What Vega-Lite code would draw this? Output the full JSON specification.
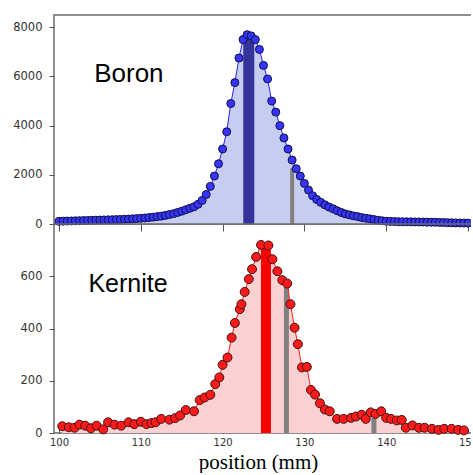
{
  "$schema": "https://vega.github.io/schema/vega-lite/v6.json",
  "padding": {"left": 5, "top": 14, "right": -8, "bottom": 0},
  "spacing": 0,
  "bounds": "flush",
  "config": {
    "view": {"stroke": "#6b6b6b", "strokeWidth": 1.5},
    "axis": {"domain": false, "grid": false, "tickColor": "#555555", "labelColor": "#333333", "labelFont": "DejaVu Sans"}
  },
  "datasets": {
    "boron": [
      {"position": 100.0, "counts": 110}, {"position": 100.5, "counts": 115}, {"position": 101.0, "counts": 120}, {"position": 101.5, "counts": 125},
      {"position": 102.0, "counts": 130}, {"position": 102.5, "counts": 135}, {"position": 103.0, "counts": 140}, {"position": 103.5, "counts": 145},
      {"position": 104.0, "counts": 150}, {"position": 104.5, "counts": 155}, {"position": 105.0, "counts": 160}, {"position": 105.5, "counts": 165},
      {"position": 106.0, "counts": 170}, {"position": 106.5, "counts": 175}, {"position": 107.0, "counts": 180}, {"position": 107.5, "counts": 185},
      {"position": 108.0, "counts": 195}, {"position": 108.5, "counts": 200}, {"position": 109.0, "counts": 210}, {"position": 109.5, "counts": 220},
      {"position": 110.0, "counts": 230}, {"position": 110.5, "counts": 245}, {"position": 111.0, "counts": 260}, {"position": 111.5, "counts": 280},
      {"position": 112.0, "counts": 300}, {"position": 112.5, "counts": 320}, {"position": 113.0, "counts": 350}, {"position": 113.5, "counts": 385},
      {"position": 114.0, "counts": 420}, {"position": 114.5, "counts": 470}, {"position": 115.0, "counts": 520}, {"position": 115.5, "counts": 580},
      {"position": 116.0, "counts": 640}, {"position": 116.5, "counts": 700}, {"position": 117.0, "counts": 800}, {"position": 117.5, "counts": 960},
      {"position": 118.0, "counts": 1200}, {"position": 118.5, "counts": 1530}, {"position": 119.0, "counts": 1950}, {"position": 119.5, "counts": 2450},
      {"position": 120.0, "counts": 3050}, {"position": 120.5, "counts": 3750}, {"position": 121.0, "counts": 4900}, {"position": 121.5, "counts": 5750},
      {"position": 122.0, "counts": 6750}, {"position": 122.5, "counts": 7500}, {"position": 123.0, "counts": 7700}, {"position": 123.5, "counts": 7650},
      {"position": 124.0, "counts": 7500}, {"position": 124.5, "counts": 7100}, {"position": 125.0, "counts": 6450}, {"position": 125.5, "counts": 5900},
      {"position": 126.0, "counts": 5000}, {"position": 126.5, "counts": 4550}, {"position": 127.0, "counts": 4000}, {"position": 127.5, "counts": 3500},
      {"position": 128.0, "counts": 3050}, {"position": 128.5, "counts": 2600}, {"position": 129.0, "counts": 2250}, {"position": 129.5, "counts": 1950},
      {"position": 130.0, "counts": 1650}, {"position": 130.5, "counts": 1380}, {"position": 131.0, "counts": 1150}, {"position": 131.5, "counts": 1000},
      {"position": 132.0, "counts": 880}, {"position": 132.5, "counts": 780}, {"position": 133.0, "counts": 690}, {"position": 133.5, "counts": 620},
      {"position": 134.0, "counts": 540}, {"position": 134.5, "counts": 470}, {"position": 135.0, "counts": 410}, {"position": 135.5, "counts": 370},
      {"position": 136.0, "counts": 330}, {"position": 136.5, "counts": 300}, {"position": 137.0, "counts": 260}, {"position": 137.5, "counts": 235},
      {"position": 138.0, "counts": 210}, {"position": 138.5, "counts": 180}, {"position": 139.0, "counts": 155}, {"position": 139.5, "counts": 130},
      {"position": 140.0, "counts": 115}, {"position": 140.5, "counts": 105}, {"position": 141.0, "counts": 100}, {"position": 141.5, "counts": 95},
      {"position": 142.0, "counts": 92}, {"position": 142.5, "counts": 90}, {"position": 143.0, "counts": 88}, {"position": 143.5, "counts": 85},
      {"position": 144.0, "counts": 82}, {"position": 144.5, "counts": 80}, {"position": 145.0, "counts": 75}, {"position": 145.5, "counts": 72},
      {"position": 146.0, "counts": 70}, {"position": 146.5, "counts": 65}, {"position": 147.0, "counts": 60}, {"position": 147.5, "counts": 55},
      {"position": 148.0, "counts": 50}, {"position": 148.5, "counts": 45}, {"position": 149.0, "counts": 42}, {"position": 149.5, "counts": 38},
      {"position": 150.0, "counts": 35}
    ],
    "kernite": [
      {"position": 100.4, "counts": 26}, {"position": 101.2, "counts": 22}, {"position": 101.9, "counts": 20}, {"position": 102.5, "counts": 32},
      {"position": 103.2, "counts": 28}, {"position": 103.9, "counts": 18}, {"position": 104.6, "counts": 28}, {"position": 105.4, "counts": 14},
      {"position": 106.0, "counts": 41}, {"position": 106.8, "counts": 32}, {"position": 107.6, "counts": 28}, {"position": 108.5, "counts": 41},
      {"position": 109.2, "counts": 34}, {"position": 110.0, "counts": 43}, {"position": 110.7, "counts": 34}, {"position": 111.3, "counts": 38},
      {"position": 111.8, "counts": 41}, {"position": 112.5, "counts": 54}, {"position": 113.5, "counts": 51}, {"position": 114.2, "counts": 57},
      {"position": 114.8, "counts": 67}, {"position": 115.5, "counts": 88}, {"position": 116.5, "counts": 83}, {"position": 117.2, "counts": 126},
      {"position": 117.8, "counts": 136}, {"position": 118.5, "counts": 146}, {"position": 119.1, "counts": 187}, {"position": 119.6, "counts": 213},
      {"position": 120.0, "counts": 261}, {"position": 120.6, "counts": 289}, {"position": 121.1, "counts": 365}, {"position": 121.5, "counts": 421},
      {"position": 122.1, "counts": 474}, {"position": 122.3, "counts": 493}, {"position": 122.7, "counts": 540}, {"position": 123.2, "counts": 589},
      {"position": 123.6, "counts": 627}, {"position": 124.1, "counts": 674}, {"position": 124.7, "counts": 720}, {"position": 125.6, "counts": 718},
      {"position": 126.1, "counts": 665}, {"position": 126.7, "counts": 619}, {"position": 127.3, "counts": 585}, {"position": 127.9, "counts": 572},
      {"position": 128.3, "counts": 493}, {"position": 128.8, "counts": 403}, {"position": 129.2, "counts": 340}, {"position": 129.7, "counts": 251},
      {"position": 130.3, "counts": 253}, {"position": 130.8, "counts": 165}, {"position": 131.3, "counts": 147}, {"position": 131.9, "counts": 114},
      {"position": 132.5, "counts": 90}, {"position": 133.1, "counts": 83}, {"position": 134.0, "counts": 54}, {"position": 134.8, "counts": 54},
      {"position": 135.7, "counts": 58}, {"position": 136.3, "counts": 63}, {"position": 137.0, "counts": 70}, {"position": 137.5, "counts": 54},
      {"position": 138.1, "counts": 79}, {"position": 138.7, "counts": 73}, {"position": 139.4, "counts": 83}, {"position": 140.0, "counts": 58},
      {"position": 140.6, "counts": 54}, {"position": 141.3, "counts": 48}, {"position": 141.9, "counts": 50}, {"position": 142.4, "counts": 20},
      {"position": 143.2, "counts": 29}, {"position": 144.0, "counts": 20}, {"position": 144.7, "counts": 20}, {"position": 145.6, "counts": 16},
      {"position": 146.4, "counts": 12}, {"position": 147.1, "counts": 16}, {"position": 148.0, "counts": 16}, {"position": 148.8, "counts": 12},
      {"position": 149.5, "counts": 10}
    ]
  },
  "vconcat": [
    {
      "width": 419,
      "height": 209,
      "layer": [
        {
          "data": {"name": "boron"},
          "mark": {"type": "area", "color": "#c6cdf1"},
          "encoding": {
            "x": {"field": "position", "type": "quantitative", "scale": {"domain": [100, 150], "nice": false, "zero": false},
                  "axis": {"labels": false, "tickSize": 7, "values": [100, 110, 120, 130, 140, 150], "title": null}},
            "y": {"field": "counts", "type": "quantitative", "scale": {"domain": [0, 8500], "nice": false},
                  "axis": {"values": [0, 2000, 4000, 6000, 8000], "format": "d", "tickSize": 5, "labelPadding": 7, "labelFontSize": 11.5, "title": null, "minExtent": 48}}
          }
        },
        {
          "data": {"values": [{"position": 123.2, "counts": 7650}]},
          "mark": {"type": "bar", "color": "#333399", "size": 11},
          "encoding": {"x": {"field": "position", "type": "quantitative"}, "y": {"field": "counts", "type": "quantitative"}}
        },
        {
          "data": {"values": [{"position": 128.5, "counts": 2265}]},
          "mark": {"type": "bar", "color": "#808080", "size": 4},
          "encoding": {"x": {"field": "position", "type": "quantitative"}, "y": {"field": "counts", "type": "quantitative"}}
        },
        {
          "data": {"name": "boron"},
          "mark": {"type": "line", "color": "#2525e8", "strokeWidth": 1},
          "encoding": {"x": {"field": "position", "type": "quantitative"}, "y": {"field": "counts", "type": "quantitative"}}
        },
        {
          "data": {"name": "boron"},
          "mark": {"type": "point", "shape": "circle", "filled": true, "fill": "#3535ff", "stroke": "#101040", "strokeWidth": 1, "size": 64, "opacity": 1},
          "encoding": {"x": {"field": "position", "type": "quantitative"}, "y": {"field": "counts", "type": "quantitative"}}
        },
        {
          "data": {"values": [{}]},
          "mark": {"type": "text", "text": "Boron", "font": "Liberation Sans", "fontSize": 26, "align": "left", "baseline": "alphabetic", "color": "#000000"},
          "encoding": {"x": {"datum": 104.3, "type": "quantitative"}, "y": {"datum": 5770, "type": "quantitative"}}
        }
      ]
    },
    {
      "width": 419,
      "height": 209,
      "layer": [
        {
          "data": {"name": "kernite"},
          "mark": {"type": "area", "color": "#fbd0d0"},
          "encoding": {
            "x": {"field": "position", "type": "quantitative", "scale": {"domain": [100, 150], "nice": false, "zero": false},
                  "axis": {"values": [100, 110, 120, 130, 140, 150], "tickSize": -4, "labelPadding": 8, "labelFontSize": 10, "labelFlush": false,
                           "title": "position (mm)", "titleFont": "Liberation Serif", "titleFontSize": 21, "titleFontWeight": "normal", "titleColor": "#000000", "titlePadding": 4, "titleX": 204}},
            "y": {"field": "counts", "type": "quantitative", "scale": {"domain": [0, 800], "nice": false},
                  "axis": {"values": [0, 200, 400, 600], "format": "d", "tickSize": 5, "labelPadding": 7, "labelFontSize": 11.5, "title": null, "minExtent": 48}}
          }
        },
        {
          "data": {"values": [{"position": 125.3, "counts": 710}]},
          "mark": {"type": "bar", "color": "#ff0000", "size": 10},
          "encoding": {"x": {"field": "position", "type": "quantitative"}, "y": {"field": "counts", "type": "quantitative"}}
        },
        {
          "data": {"values": [{"position": 127.8, "counts": 575}, {"position": 138.5, "counts": 58}]},
          "mark": {"type": "bar", "color": "#808080", "size": 5},
          "encoding": {"x": {"field": "position", "type": "quantitative"}, "y": {"field": "counts", "type": "quantitative"}}
        },
        {
          "data": {"name": "kernite"},
          "mark": {"type": "line", "color": "#ff2020", "strokeWidth": 1},
          "encoding": {"x": {"field": "position", "type": "quantitative"}, "y": {"field": "counts", "type": "quantitative"}}
        },
        {
          "data": {"name": "kernite"},
          "mark": {"type": "point", "shape": "circle", "filled": true, "fill": "#ff1a1a", "stroke": "#401010", "strokeWidth": 1, "size": 80, "opacity": 1},
          "encoding": {"x": {"field": "position", "type": "quantitative"}, "y": {"field": "counts", "type": "quantitative"}}
        },
        {
          "data": {"values": [{}]},
          "mark": {"type": "text", "text": "Kernite", "font": "Liberation Sans", "fontSize": 25, "align": "left", "baseline": "alphabetic", "color": "#000000"},
          "encoding": {"x": {"datum": 103.6, "type": "quantitative"}, "y": {"datum": 540, "type": "quantitative"}}
        }
      ]
    }
  ]
}
